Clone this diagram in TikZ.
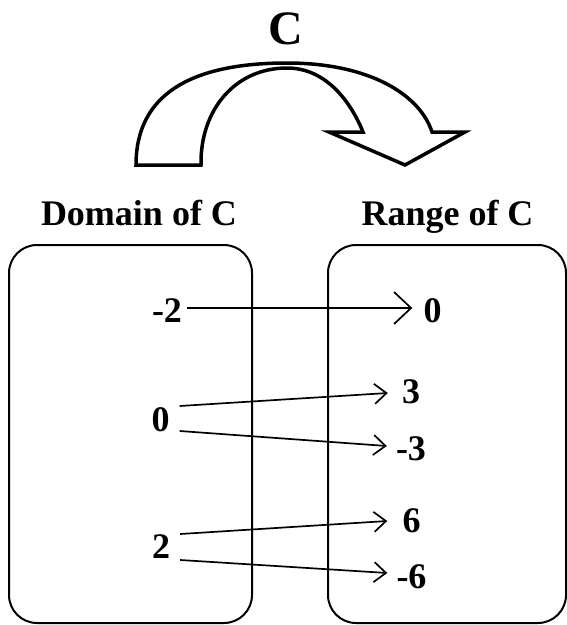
\documentclass[tikz,border=0pt]{standalone}
\usepackage{fontspec}
\setmainfont{Liberation Serif}
\usetikzlibrary{arrows.meta,calc}
\begin{document}
\begin{tikzpicture}[x=1pt,y=-1pt,
  lbl/.style={anchor=base,inner sep=0pt,font=\fontsize{36}{40}\selectfont\bfseries},
  setbox/.style={draw,line width=2pt,rounded corners=28pt,inner sep=0pt},
  maparrow/.style={line width=1.7pt,-{Straight Barb[length=12pt,width=20pt]}},
  bigarrow/.style={line width=1.7pt,-{Straight Barb[length=17pt,width=32pt]}},
  bentarrow/.style={draw,line width=3.5pt,line join=miter,fill=white}]
\useasboundingbox (0,0) rectangle (567,625);
% curved arrow
\draw[bentarrow] (136,165) .. controls (136,95) and (190,63) .. (287,63)
  .. controls (370,63) and (420,95) .. (432,132)
  -- (465,132) -- (405,165) -- (329,132) -- (363,132)
  .. controls (350,100) and (325,68) .. (287,68)
  .. controls (235,68) and (200,110) .. (201,165) -- cycle;
\node[lbl,font=\fontsize{48}{52}\selectfont\bfseries] (title) at (285.5,44) {C};
% boxes
\node[setbox,minimum width=243pt,minimum height=378pt] (dom) at (130.5,434) {};
\node[setbox,minimum width=238pt,minimum height=378pt] (ran) at (447,434) {};
\node[lbl] (domlbl) at (139,225) {Domain of C};
\node[lbl] (ranlbl) at (447.5,225) {Range of C};
% elements
\node[lbl] (lm2) at (167,322) {-2};
\node[lbl] (l0) at (160.5,431) {0};
\node[lbl] (l2) at (161,558) {2};
\node[lbl] (r0) at (432.5,322) {0};
\node[lbl] (r3) at (411,403) {3};
\node[lbl] (rm3) at (411,460) {-3};
\node[lbl] (r6) at (411.5,532) {6};
\node[lbl] (rm6) at (411.5,588) {-6};
% mapping arrows
\draw[bigarrow] ($(lm2.base east)+(5,-14)$) -- ($(r0.base west)+(-11,-14)$);
\draw[maparrow] ($(l0.base east)+(10,-25)$) -- ($(r3.base west)+(-14,-10)$);
\draw[maparrow] ($(l0.base east)+(10,0)$) -- ($(rm3.base west)+(-9,-14)$);
\draw[maparrow] ($(l2.base east)+(10,-24)$) -- ($(r6.base west)+(-15,-11)$);
\draw[maparrow] ($(l2.base east)+(10,2)$) -- ($(rm6.base west)+(-9,-15)$);
\end{tikzpicture}
\end{document}
